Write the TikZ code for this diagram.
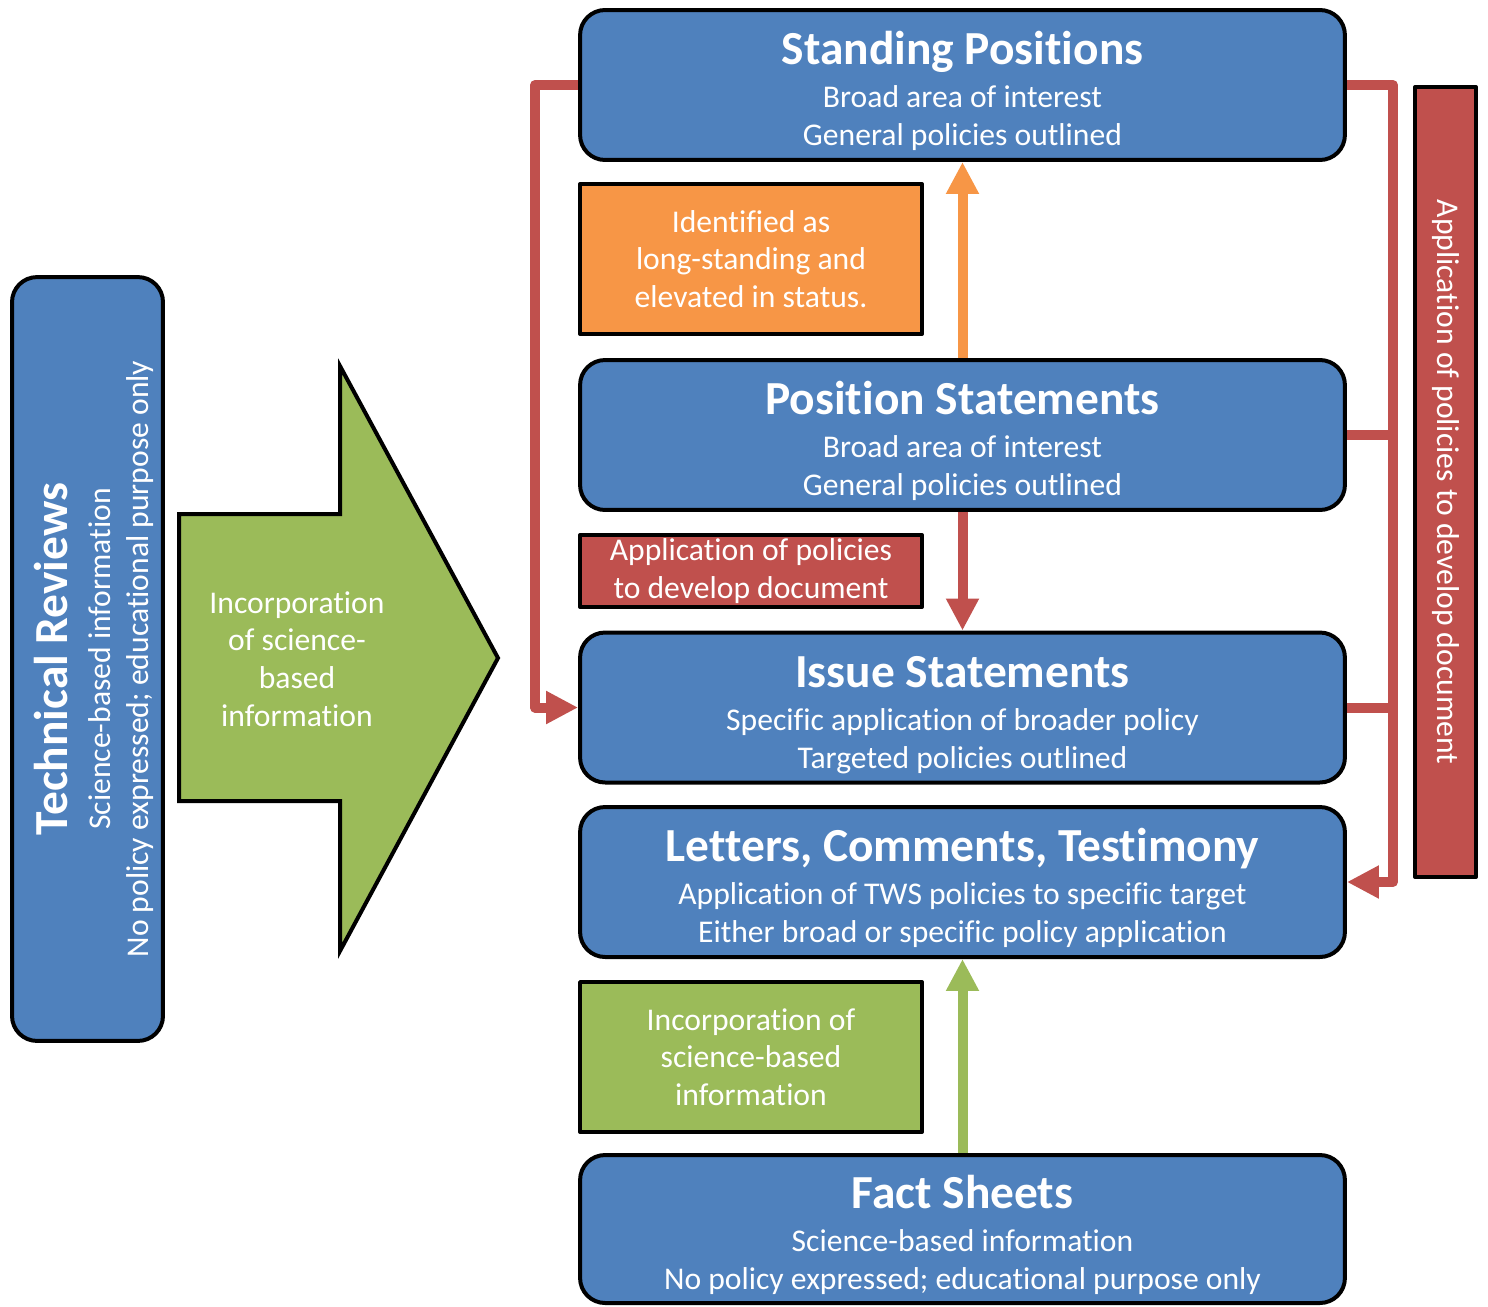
\documentclass[tikz,border=0pt]{standalone}
\usepackage{fontspec}
\setmainfont{Carlito}[Ligatures=NoCommon]
\usetikzlibrary{arrows.meta}
\definecolor{boxblue}{HTML}{4F81BD}
\definecolor{boxorange}{HTML}{F79646}
\definecolor{boxred}{HTML}{C0504D}
\definecolor{boxgreen}{HTML}{9BBB59}
\newcommand{\headfont}{\fontsize{27}{30}\selectfont\bfseries\rule{0pt}{26pt}}
\begin{document}
\begin{tikzpicture}[x=0.02cm,y=-0.02cm,line join=round,
  font=\fontsize{18}{21.5}\selectfont,
  docbox/.style={draw=black,line width=0.08cm,fill=boxblue,rounded corners=0.5cm,
    text=white,align=center,inner sep=0pt,minimum width=15.3cm,minimum height=3cm},
  notebox/.style={draw=black,line width=0.08cm,text=white,align=center,
    inner sep=0pt,minimum width=6.84cm,minimum height=3cm},
  link/.style={line width=0.2cm,line cap=butt},
  linkarrow/.style={-{Triangle[length=0.64cm,width=0.62cm]}}]
\useasboundingbox (0,0) rectangle (1488,1306);
% document types
\node[docbox] (std) at (962.5,85)
  {{\headfont Standing Positions}\\[3pt]Broad area of interest\\General policies outlined};
\node[docbox] (pos) at (962.5,435)
  {{\headfont Position Statements}\\[3pt]Broad area of interest\\General policies outlined};
\node[docbox] (iss) at (962.5,707.5)
  {{\headfont Issue Statements}\\[3pt]Specific application of broader policy\\Targeted policies outlined};
\node[docbox] (let) at (962.5,882)
  {{\headfont Letters, Comments, Testimony}\\[3pt]Application of TWS policies to specific target\\Either broad or specific policy application};
\node[docbox,minimum height=2.96cm] (fact) at (962.5,1229)
  {{\headfont Fact Sheets}\\[3pt]Science-based information\\No policy expressed; educational purpose only};
\node[docbox,rotate=90,minimum width=15.28cm,minimum height=3.02cm] (tech) at (87.5,659)
  {{\headfont Technical Reviews}\\[3pt]Science-based information\\No policy expressed; educational purpose only};
% notes
\node[notebox,fill=boxorange] (longstand) at (751,259)
  {Identified as\\long-standing and\\elevated in status.};
\node[notebox,fill=boxred,minimum height=1.44cm] (apply) at (751,571)
  {Application of policies\\to develop document};
\node[notebox,fill=boxgreen] (incorp) at (751,1057)
  {Incorporation of\\science-based\\information};
\node[notebox,fill=boxred,rotate=-90,minimum width=15.8cm,minimum height=1.22cm] (side) at (1445.5,482)
  {Application of policies to develop document};
% big arrow
\draw[line width=0.08cm,line join=miter,fill=boxgreen]
  (179,514) -- (340,514) -- (340,366) -- (498,658) -- (340,951) -- (340,801) -- (179,801) -- cycle;
\node[text=white,align=center] (sciarrow) at (297,659)
  {Incorporation\\of science-\\based\\information};
% connectors
\draw[link,boxred,linkarrow] (std.west) -- ++(-43,0) |- (iss.west);
\draw[link,boxred,linkarrow] (std.east) -- ++(46,0) |- (let.east);
\draw[link,boxred] (pos.east) -- ++(46,0);
\draw[link,boxred] (iss.east) -- ++(46,0);
\draw[link,boxorange,linkarrow] (pos.north) -- (std.south);
\draw[link,boxred,linkarrow] (pos.south) -- (iss.north);
\draw[link,boxgreen,linkarrow] (fact.north) -- (let.south);
\end{tikzpicture}
\end{document}
